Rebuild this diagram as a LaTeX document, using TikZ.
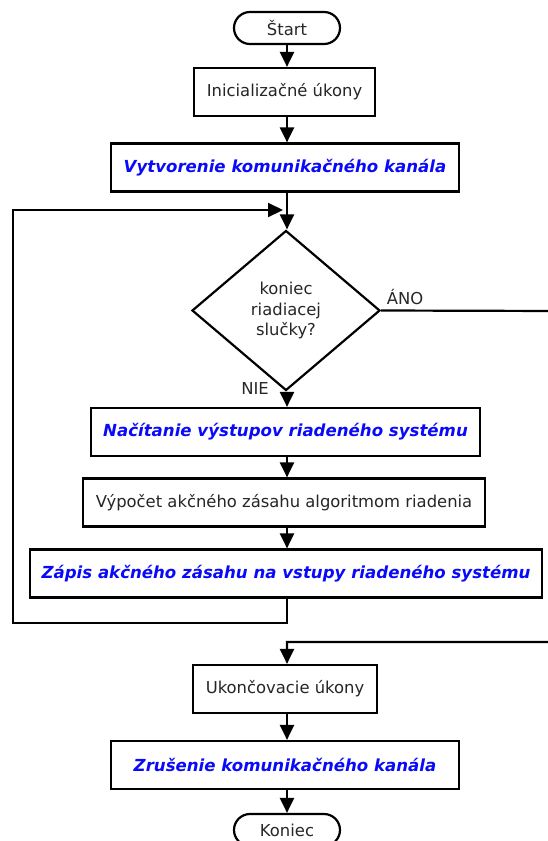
\documentclass[tikz,border=0pt]{standalone}
\usepackage{fontspec}
\setmainfont{DejaVu Sans}
\usetikzlibrary{arrows.meta,shapes.geometric,shapes.misc}
\begin{document}
\begin{tikzpicture}[x=1pt,y=-1pt,
  every node/.style={font=\fontsize{16.4}{20.5}\selectfont, text=black!85},
  box/.style={draw=black, line width=2.2pt, fill=white, inner sep=0pt, minimum height=48pt},
  pill/.style={draw=black, line width=2.2pt, rounded rectangle, inner sep=0pt, minimum width=106pt, minimum height=32pt},
  blue/.style={font=\fontsize{16.6}{20}\selectfont\bfseries\itshape, text={rgb,255:red,10;green,10;blue,250}},
  dec/.style={draw=black, line width=2.2pt, diamond, inner sep=0pt, minimum width=188pt, minimum height=160pt, align=center},
  conn/.style={draw=black, line width=2.2pt},
  arr/.style={conn, -{Triangle[length=15pt,width=14pt]}},
  lbl/.style={inner sep=0pt}
]
\useasboundingbox (0,0) rectangle (548,841);
\clip (0,0) rectangle (548,841);

\node[pill] (start) at (287,28) {Štart};
\node[box, minimum width=181pt] (init) at (284.5,92) {Inicializačné úkony};
\node[box, minimum width=348pt, blue] (vytv) at (285,167.5) {Vytvorenie komunikačného kanála};
\node[dec] (dec) at (286,310.5) {koniec\\riadiacej\\slučky?};
\node[box, minimum width=389pt, blue] (nac) at (285.5,432) {Načítanie výstupov riadeného systému};
\node[box, minimum width=402pt] (vyp) at (284,502.5) {Výpočet akčného zásahu algoritmom riadenia};
\node[box, minimum width=512pt, blue] (zap) at (286,573.5) {Zápis akčného zásahu na vstupy riadeného systému};
\node[box, minimum width=184pt] (ukon) at (285,689) {Ukončovacie úkony};
\node[box, minimum width=348pt, blue] (zrus) at (285,765) {Zrušenie komunikačného kanála};
\node[pill] (kon) at (287,830) {Koniec};

\node[lbl] (ano) at (405,297) {ÁNO};
\node[lbl] (nie) at (255,389) {NIE};

\coordinate (loopA) at (287,623);
\coordinate (loopB) at (13,623);
\coordinate (loopC) at (13,210);
\coordinate (loopD) at (283,210);
\coordinate (yesA) at (560,311);
\coordinate (yesB) at (560,642);
\coordinate (yesC) at (287,642);

\draw[arr] (start.south -| 287,0) -- (init.north -| 287,0);
\draw[arr] (init.south -| 287,0) -- (vytv.north -| 287,0);
\draw[arr] (vytv.south -| 287,0) -- (dec.north -| 287,0);
\draw[arr] (dec.south -| 287,0) -- (nac.north -| 287,0);
\draw[arr] (nac.south -| 287,0) -- (vyp.north -| 287,0);
\draw[arr] (vyp.south -| 287,0) -- (zap.north -| 287,0);
\draw[arr] (zap.south -| 287,0) -- (loopA) -- (loopB) -- (loopC) -- (loopD);
\draw[arr] (dec.east) -- (yesA) -- (yesB) -- (yesC) -- (ukon.north -| 287,0);
\draw[arr] (ukon.south -| 287,0) -- (zrus.north -| 287,0);
\draw[arr] (zrus.south -| 287,0) -- (kon.north -| 287,0);
\end{tikzpicture}
\end{document}
